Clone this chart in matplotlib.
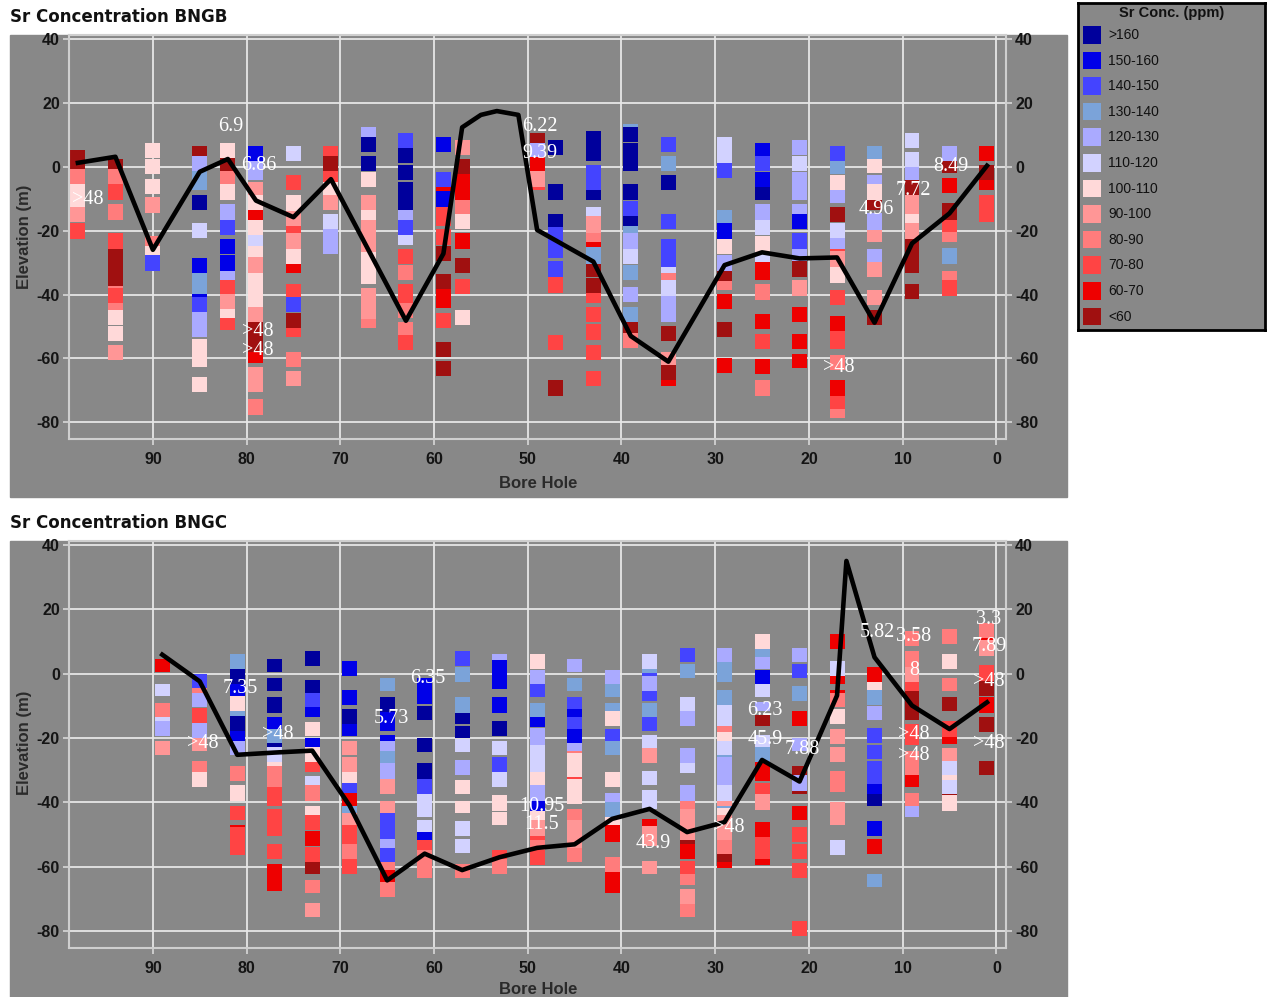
import matplotlib.pyplot as plt
from matplotlib.patches import Rectangle

W, H = 1267, 997

# Sr concentration classes, high to low
conc_classes = [">160", "150-160", "140-150", "130-140", "120-130", "110-120",
                "100-110", "90-100", "80-90", "70-80", "60-70", "<60"]
conc_colors = ["#00009c", "#0000e8", "#4444ff", "#7ba3d9", "#aaaaff", "#d2d2ff",
               "#ffd9d9", "#ff9696", "#ff7c7c", "#ff4444", "#ee0000", "#a01010"]

# ---- BNGB: sample intervals per bore hole as (top, bottom, class index)
bngb_holes = [98, 94, 90, 85, 82, 79, 75, 71, 67, 63, 59, 57, 49, 47, 43, 39,
              35, 29, 25, 21, 17, 13, 9, 5, 1]
bngb_samples = [
    [(5.2, -0.8, 11), (-0.8, -5.4, 8), (-5.4, -9.6, 6), (-9.6, -12.5, 6), (-12.5, -17.2, 7), (-17.7, -22.6, 9)],
    [(2.4, -0.8, 11), (-0.8, -5.4, 8), (-5.4, -10.4, 9), (-11.7, -16.7, 8), (-20.9, -25.6, 9), (-25.6, -37.4, 11),
     (-37.4, -38.0, 8), (-38.0, -42.8, 9), (-42.8, -44.9, 8), (-44.9, -49.5, 6), (-49.8, -54.5, 6), (-55.8, -60.5, 7)],
    [(7.3, 2.6, 6), (2.3, -2.3, 6), (-3.7, -8.6, 6), (-9.6, -14.4, 7), (-21.7, -24.8, 8), (-24.8, -27.6, 6),
     (-27.6, -32.6, 2)],
    [(6.5, 3.3, 11), (3.3, -1.3, 4), (-1.3, -7.3, 3), (-8.9, -13.6, 0), (-17.5, -22.4, 5), (-28.5, -33.2, 1),
     (-33.2, -39.7, 3), (-39.7, -40.7, 1), (-40.7, -45.4, 2), (-45.4, -53.2, 4), (-54.0, -62.6, 6), (-65.9, -70.4, 6)],
    [(7.3, 2.6, 6), (2.6, -1.3, 11), (-1.3, -5.4, 8), (-5.4, -10.4, 6), (-11.7, -16.7, 4), (-16.7, -21.4, 2),
     (-22.6, -27.3, 1), (-27.6, -32.6, 1), (-32.6, -35.5, 4), (-35.5, -39.7, 9), (-39.7, -44.5, 7), (-44.5, -47.3, 6),
     (-47.3, -51.1, 9)],
    [(6.5, 1.8, 1), (1.8, -4.2, 4), (-4.7, -8.9, 7), (-8.9, -13.6, 6), (-13.6, -16.7, 10), (-16.7, -21.4, 6),
     (-21.4, -24.8, 5), (-24.8, -28.4, 6), (-28.4, -33.2, 7), (-33.2, -43.8, 6), (-43.8, -48.5, 7), (-48.5, -57.9, 11),
     (-57.9, -61.3, 10), (-62.8, -70.4, 7), (-72.7, -77.7, 8)],
    [(6.5, 1.8, 5), (-2.6, -7.3, 9), (-8.9, -13.8, 6), (-13.8, -18.6, 7), (-18.6, -20.7, 9), (-20.7, -25.6, 7),
     (-25.6, -30.5, 6), (-30.5, -33.2, 10), (-36.7, -40.7, 9), (-40.7, -45.4, 2), (-45.7, -50.4, 11), (-50.4, -53.2, 9),
     (-57.9, -62.8, 8), (-63.8, -68.6, 7)],
    [(6.5, 3.3, 9), (3.3, -1.3, 11), (-1.3, -4.7, 9), (-4.7, -8.9, 6), (-8.9, -13.6, 7), (-14.8, -19.6, 5),
     (-19.6, -27.3, 4)],
    [(12.5, 9.4, 4), (9.4, 4.7, 0), (3.3, -1.3, 0), (-1.6, -6.3, 6), (-8.9, -13.6, 7), (-13.6, -16.7, 6),
     (-16.7, -21.4, 7), (-21.4, -26.6, 7), (-26.6, -36.7, 6), (-38.0, -47.5, 7), (-47.5, -50.4, 8)],
    [(10.6, 6.0, 2), (6.0, 1.0, 0), (0.5, -4.2, 0), (-4.7, -13.6, 0), (-13.6, -16.7, 4), (-16.7, -21.4, 2),
     (-21.4, -24.5, 5), (-25.6, -30.5, 9), (-30.8, -35.3, 8), (-36.7, -42.8, 9), (-42.8, -47.3, 8), (-48.5, -52.7, 8),
     (-52.7, -57.4, 9)],
    [(9.4, 4.7, 1), (-1.6, -6.3, 2), (-6.3, -7.5, 10), (-7.5, -12.5, 1), (-12.5, -18.6, 9), (-19.6, -24.5, 9),
     (-24.8, -29.4, 11), (-33.6, -38.4, 11), (-38.4, -44.3, 10), (-45.9, -50.4, 9), (-54.9, -59.5, 11),
     (-60.8, -65.5, 11)],
    [(8.3, 3.7, 7), (2.4, -2.3, 11), (-2.3, -10.4, 10), (-10.4, -14.8, 8), (-14.8, -19.6, 6), (-20.7, -25.6, 10),
     (-28.7, -33.4, 11), (-35.0, -39.7, 9), (-44.9, -49.5, 6)],
    [(10.6, 7.5, 11), (7.5, 3.1, 4), (3.1, -1.3, 10), (-1.3, -6.5, 7), (-6.5, -7.3, 9)],
    [(8.3, 3.7, 0), (-5.4, -10.4, 0), (-14.8, -18.8, 0), (-18.8, -28.5, 2), (-29.5, -34.4, 2), (-34.6, -39.6, 9),
     (-52.7, -57.4, 9), (-66.8, -71.7, 11)],
    [(11.2, 1.8, 0), (0.5, -7.3, 2), (-7.3, -10.4, 0), (-12.5, -15.4, 5), (-15.4, -20.6, 7), (-20.6, -23.5, 8),
     (-23.5, -25.2, 10), (-25.2, -30.3, 3), (-30.3, -34.4, 11), (-34.7, -39.4, 11), (-39.4, -42.8, 9),
     (-44.0, -48.5, 9), (-49.2, -54.2, 9), (-55.8, -60.5, 9), (-63.9, -68.5, 9)],
    [(13.4, 12.5, 3), (12.5, 7.8, 0), (7.5, -1.3, 0), (-5.4, -10.4, 0), (-10.7, -15.4, 2), (-15.4, -18.6, 0),
     (-18.6, -20.7, 3), (-20.7, -25.6, 4), (-25.6, -30.5, 5), (-30.8, -35.5, 3), (-37.8, -42.3, 4), (-44.0, -48.5, 3),
     (-48.5, -51.9, 11), (-51.9, -56.6, 8)],
    [(9.4, 4.7, 2), (3.3, -1.3, 3), (-2.6, -7.3, 0), (-14.8, -19.6, 2), (-22.6, -31.3, 2), (-31.3, -33.2, 5),
     (-33.2, -35.5, 8), (-35.5, -40.5, 5), (-40.5, -48.5, 4), (-49.9, -54.6, 11), (-57.9, -62.1, 7),
     (-62.1, -66.8, 11), (-66.8, -68.6, 10)],
    [(9.4, 1.0, 5), (1.0, -3.4, 2), (-13.6, -17.7, 3), (-17.7, -22.6, 1), (-22.6, -27.3, 6), (-27.6, -32.6, 4),
     (-32.6, -35.7, 11), (-35.7, -38.6, 8), (-39.8, -44.5, 10), (-48.5, -53.2, 11), (-60.0, -64.5, 10)],
    [(7.5, 3.3, 1), (3.3, -1.3, 2), (-1.6, -6.3, 1), (-6.5, -10.4, 0), (-11.7, -16.7, 4), (-16.7, -21.4, 5),
     (-21.7, -26.6, 6), (-26.6, -29.7, 5), (-29.7, -35.5, 10), (-36.7, -41.6, 8), (-46.0, -50.7, 10),
     (-52.3, -57.0, 9), (-60.1, -64.8, 10), (-66.8, -71.7, 8)],
    [(8.3, 3.7, 4), (3.3, -1.3, 5), (-1.6, -10.4, 4), (-11.7, -14.8, 4), (-14.8, -19.6, 1), (-20.7, -25.6, 2),
     (-25.6, -29.4, 4), (-29.4, -34.4, 11), (-35.5, -40.5, 7), (-44.0, -48.5, 10), (-52.5, -57.0, 10),
     (-58.5, -63.0, 10)],
    [(6.5, 1.8, 2), (1.8, -2.3, 3), (-2.6, -7.3, 6), (-7.3, -11.3, 4), (-12.5, -17.2, 11), (-17.5, -22.4, 5),
     (-22.4, -25.6, 4), (-25.6, -26.3, 9), (-26.3, -31.3, 7), (-31.3, -36.5, 6), (-38.6, -43.3, 9),
     (-46.7, -51.5, 10), (-51.5, -57.0, 9), (-59.0, -63.5, 8), (-66.8, -71.7, 10), (-71.7, -75.9, 9),
     (-75.9, -78.6, 8)],
    [(6.5, 2.3, 3), (2.3, -2.1, 6), (-2.6, -5.4, 4), (-5.4, -10.4, 6), (-10.4, -13.6, 11), (-14.6, -19.8, 4),
     (-19.8, -23.5, 7), (-25.6, -29.7, 4), (-29.7, -34.4, 7), (-38.6, -43.3, 7), (-44.8, -49.6, 11)],
    [(10.4, 5.7, 5), (4.5, 0.0, 5), (0.0, -4.2, 4), (-4.2, -8.9, 11), (-8.9, -14.8, 7), (-14.8, -17.5, 6),
     (-17.5, -22.6, 7), (-22.6, -33.2, 11), (-36.7, -41.4, 11)],
    [(6.5, 1.8, 4), (1.8, -2.1, 11), (-3.4, -8.3, 10), (-11.5, -16.7, 11), (-16.7, -20.3, 9), (-20.3, -23.5, 8),
     (-25.3, -30.3, 3), (-32.6, -35.5, 8), (-35.5, -40.4, 9)],
    [(6.5, 1.8, 10), (0.5, -4.2, 11), (-4.2, -7.3, 10), (-8.9, -17.2, 9)],
]
bngb_line_x = [98, 94, 90, 85, 82, 79, 75, 71, 63, 59, 57, 55, 53.3, 51, 49, 43, 39, 35, 29, 25, 21, 17, 13, 9, 5, 1]
bngb_line_y = [1.2, 3.1, -26, -1.6, 2.4, -10.6, -15.8, -3.9, -48.2, -27.2, 12.3, 16.2, 17.4, 16.2, -19.8, -29.7,
               -53, -61, -30.8, -26.8, -28.7, -28.4, -48.8, -24, -14.6, 0.3]
bngb_notes = [("6.9", 81.7, 12.5), ("6.86", 78.7, 0.3), (">48", 96.9, -10.2), (">48", 78.8, -51.6),
              (">48", 78.8, -57.6), ("6.22", 48.7, 12.5), ("9.39", 48.7, 4.0), ("8.49", 4.8, 0.0),
              ("7.72", 8.85, -7.3), ("4.96", 12.8, -13.3), (">48", 16.8, -62.8)]

# ---- BNGC
bngc_holes = [89, 85, 81, 77, 73, 69, 65, 61, 57, 53, 49, 45, 41, 37, 33, 29, 25, 21, 17, 13, 9, 5, 1]
bngc_samples = [
    [(4.5, 0.6, 10), (-3.3, -7.0, 5), (-9.1, -13.5, 8), (-13.5, -14.8, 5), (-14.8, -19.5, 4), (-20.8, -25.2, 7)],
    [(0.0, -4.3, 2), (-4.3, -5.9, 8), (-5.9, -10.5, 4), (-10.7, -15.3, 9), (-15.3, -19.9, 4), (-19.9, -24.1, 7),
     (-27.0, -30.6, 8), (-30.6, -35.2, 6)],
    [(6.1, 1.4, 3), (1.4, -3.3, 0), (-3.3, -6.8, 1), (-6.8, -11.7, 6), (-11.7, -13.0, 3), (-13.0, -17.7, 0),
     (-17.7, -20.8, 1), (-20.8, -25.4, 4), (-28.8, -33.4, 8), (-34.7, -39.4, 6), (-41.1, -45.3, 9),
     (-47.0, -47.6, 10), (-47.6, -56.4, 9)],
    [(4.6, 0.6, 0), (-1.2, -5.4, 0), (-7.4, -12.3, 0), (-13.5, -17.1, 1), (-17.1, -21.6, 3), (-21.6, -22.8, 0),
     (-22.8, -27.5, 5), (-27.5, -28.7, 6), (-28.7, -35.2, 8), (-35.2, -41.1, 9), (-41.9, -50.5, 9),
     (-53.0, -57.7, 9), (-59.0, -67.5, 10)],
    [(7.1, 2.4, 0), (-1.9, -5.9, 0), (-5.9, -10.5, 2), (-10.5, -13.5, 1), (-14.9, -19.5, 6), (-20.0, -22.8, 1),
     (-22.8, -27.5, 6), (-27.5, -30.6, 9), (-31.9, -34.7, 5), (-34.7, -39.4, 8), (-41.2, -44.0, 6),
     (-44.0, -48.7, 9), (-49.0, -53.5, 10), (-53.8, -58.5, 9), (-58.5, -62.3, 11), (-64.2, -68.1, 8),
     (-71.1, -75.6, 7)],
    [(3.9, -0.7, 1), (-5.0, -9.6, 1), (-11.0, -15.6, 0), (-15.6, -19.5, 1), (-20.8, -25.4, 7), (-25.9, -30.6, 7),
     (-30.6, -34.0, 6), (-34.0, -37.1, 2), (-37.1, -41.1, 10), (-41.1, -43.2, 3), (-43.2, -47.1, 7),
     (-47.1, -53.0, 9), (-53.0, -57.7, 8), (-57.7, -62.3, 9)],
    [(-1.2, -5.4, 3), (-7.2, -11.8, 0), (-11.8, -17.7, 1), (-18.9, -20.8, 1), (-20.8, -24.1, 4), (-24.1, -27.8, 3),
     (-27.8, -32.7, 4), (-32.7, -37.5, 7), (-39.4, -43.3, 7), (-43.3, -51.3, 2), (-51.3, -54.1, 4),
     (-54.1, -58.5, 2), (-58.5, -61.1, 8), (-61.1, -64.7, 10), (-64.7, -69.4, 8)],
    [(-1.2, -9.4, 1), (-9.9, -14.5, 0), (-20.0, -24.2, 0), (-27.8, -32.7, 0), (-32.7, -37.3, 2), (-37.3, -44.5, 5),
     (-45.4, -49.2, 5), (-49.2, -51.8, 1), (-51.8, -54.9, 9), (-54.9, -59.5, 8), (-59.5, -63.4, 8)],
    [(7.1, 2.4, 2), (2.1, -2.6, 3), (-7.4, -12.3, 3), (-12.3, -15.6, 0), (-16.1, -19.9, 0), (-20.3, -24.4, 5),
     (-26.8, -31.6, 4), (-32.9, -37.5, 6), (-39.4, -43.3, 6), (-45.9, -50.5, 5), (-51.3, -55.7, 5),
     (-59.0, -63.4, 8)],
    [(6.1, 4.2, 4), (4.2, -4.7, 1), (-7.4, -12.3, 1), (-14.8, -19.5, 0), (-20.8, -25.4, 5), (-25.9, -30.6, 2),
     (-30.6, -35.2, 5), (-37.8, -42.5, 6), (-43.0, -47.1, 6), (-54.9, -57.5, 9), (-57.5, -62.3, 8)],
    [(6.1, 1.4, 6), (1.0, -3.1, 4), (-3.1, -7.1, 2), (-9.0, -13.5, 3), (-13.5, -16.6, 1), (-16.8, -22.3, 4),
     (-22.3, -30.6, 5), (-30.6, -34.7, 6), (-34.7, -39.4, 4), (-39.4, -42.5, 1), (-42.5, -45.6, 6),
     (-45.6, -50.5, 7), (-50.5, -51.8, 9), (-51.8, -54.9, 8), (-54.9, -59.5, 9)],
    [(4.6, 0.6, 4), (-1.2, -5.4, 3), (-7.1, -11.0, 2), (-11.0, -13.5, 1), (-13.5, -17.1, 2), (-17.1, -21.6, 1),
     (-21.6, -24.1, 4), (-24.1, -24.7, 8), (-24.7, -32.1, 6), (-32.1, -32.7, 9), (-32.7, -40.4, 6),
     (-42.0, -45.3, 8), (-45.3, -54.1, 7), (-54.1, -58.5, 8)],
    [(1.0, -3.1, 4), (-3.1, -7.1, 3), (-9.0, -11.7, 3), (-11.7, -16.4, 6), (-17.1, -20.8, 2), (-20.8, -25.4, 3),
     (-30.6, -35.2, 6), (-37.1, -39.9, 4), (-39.9, -44.5, 3), (-44.5, -47.1, 6), (-47.1, -52.3, 10),
     (-56.9, -61.6, 8), (-61.6, -68.1, 10)],
    [(6.1, 1.4, 5), (1.4, 0.2, 3), (0.2, -0.8, 2), (-0.8, -5.4, 4), (-5.4, -8.5, 2), (-9.1, -13.5, 3),
     (-13.5, -17.7, 2), (-18.9, -23.0, 5), (-23.0, -27.7, 7), (-30.1, -34.7, 5), (-36.1, -42.0, 5),
     (-45.1, -47.4, 10), (-47.4, -53.4, 7), (-58.2, -62.3, 7)],
    [(8.1, 3.5, 2), (3.0, -1.2, 3), (-7.1, -11.7, 5), (-11.7, -16.4, 4), (-23.0, -27.7, 4), (-27.7, -30.8, 5),
     (-34.7, -39.4, 4), (-39.4, -42.0, 8), (-42.0, -51.8, 7), (-51.8, -53.0, 11), (-53.0, -57.7, 10),
     (-58.3, -62.3, 9), (-62.3, -65.7, 8), (-67.0, -71.6, 7), (-71.6, -75.6, 8)],
    [(8.1, 3.5, 4), (3.5, -2.6, 3), (-5.0, -9.6, 3), (-9.6, -16.4, 5), (-16.4, -18.2, 8), (-18.2, -20.8, 6),
     (-20.8, -25.4, 5), (-25.4, -25.9, 3), (-25.9, -34.7, 4), (-34.7, -39.4, 5), (-39.4, -41.2, 7),
     (-41.2, -41.7, 3), (-41.7, -44.0, 6), (-44.0, -51.8, 7), (-51.8, -55.9, 8), (-55.9, -58.5, 11),
     (-58.5, -60.3, 10)],
    [(12.4, 7.8, 6), (7.8, 5.1, 3), (5.1, 1.4, 4), (1.0, -3.1, 1), (-3.1, -7.1, 5), (-8.7, -11.6, 4),
     (-12.8, -16.4, 11), (-18.9, -22.8, 5), (-22.8, -27.5, 3), (-27.5, -33.4, 10), (-34.0, -37.3, 9),
     (-37.3, -42.2, 7), (-46.0, -50.6, 10), (-50.6, -57.7, 9), (-57.7, -59.5, 10)],
    [(8.1, 3.5, 4), (3.0, -1.2, 2), (-3.8, -8.5, 3), (-11.7, -16.4, 10), (-19.9, -24.1, 4), (-28.7, -31.6, 11),
     (-31.6, -36.3, 4), (-36.3, -37.3, 11), (-41.2, -45.3, 10), (-47.6, -52.3, 9), (-52.8, -57.7, 9),
     (-58.8, -63.5, 9), (-76.9, -81.5, 9)],
    [(12.4, 7.8, 10), (4.0, -0.7, 5), (-0.7, -3.1, 10), (-5.0, -5.9, 10), (-5.9, -10.5, 8), (-11.0, -15.6, 6),
     (-17.1, -21.8, 7), (-22.8, -27.5, 7), (-30.1, -36.6, 8), (-39.9, -47.1, 7), (-51.8, -56.4, 5)],
    [(2.2, -2.5, 10), (-2.5, -5.1, 6), (-5.1, -9.6, 3), (-9.9, -14.5, 4), (-16.9, -21.6, 2), (-22.3, -26.4, 2),
     (-27.0, -34.2, 2), (-34.2, -37.3, 1), (-37.3, -41.1, 0), (-45.9, -50.5, 1), (-51.3, -55.9, 10),
     (-62.3, -66.3, 3)],
    [(13.3, 8.7, 8), (7.1, 2.1, 8), (2.1, -2.5, 7), (-2.5, -5.4, 9), (-5.4, -14.5, 11), (-15.5, -22.3, 9),
     (-23.9, -31.6, 8), (-31.6, -35.2, 10), (-37.1, -41.1, 8), (-41.1, -44.5, 4)],
    [(13.8, 9.3, 8), (6.1, 1.4, 6), (-1.2, -5.4, 8), (-7.2, -11.7, 11), (-14.8, -19.7, 9), (-19.7, -21.8, 10),
     (-23.0, -27.0, 7), (-27.0, -31.6, 5), (-31.6, -33.0, 6), (-33.0, -37.3, 5), (-37.3, -37.6, 11),
     (-37.6, -42.5, 6)],
    [(15.7, 11.2, 8), (11.2, 10.4, 10), (10.4, 5.5, 7), (2.7, -2.3, 9), (-2.3, -6.9, 11), (-7.1, -12.1, 10),
     (-13.5, -18.2, 11), (-27.0, -31.6, 11)],
]
bngc_line_x = [89, 85, 81, 77, 73, 69, 65, 61, 57, 53, 49, 45, 41, 37, 33, 29, 25, 21, 17, 16, 13, 9, 5, 1]
bngc_line_y = [5.9, -2.4, -25.2, -24.5, -23.9, -41, -64.2, -55.9, -61, -57, -54.1, -53, -45.1, -42, -49.2,
               -46.1, -26.8, -33.5, -6.8, 35, 5.1, -9.9, -17.2, -8.9]
bngc_notes = [("7.35", 80.7, -4.5), (">48", 84.7, -21.6), (">48", 76.7, -18.9), ("5.73", 64.6, -13.8),
              ("6.35", 60.7, -1.6), ("10.95", 48.5, -41.4), ("11.5", 48.5, -47.0), ("43.9", 36.6, -52.8),
              (">48", 28.5, -47.9), ("6.23", 24.7, -11.4), ("45.9", 24.7, -20.5), ("7.88", 20.7, -23.6),
              ("5.82", 12.7, 12.8), ("3.58", 8.8, 11.5), ("8", 8.8, 1.1), (">48", 8.8, -18.9),
              (">48", 8.8, -25.4), ("3.3", 0.8, 16.7), ("7.89", 0.8, 8.4), (">48", 0.8, -2.4),
              (">48", 0.8, -21.6)]

x_ticks = [90, 80, 70, 60, 50, 40, 30, 20, 10, 0]
y_ticks = [40, 20, 0, -20, -40, -60, -80]

PANEL = "#888888"
GRID = "#e6e6e6"
SANS = "Liberation Sans"


def fx(px):
    return px / W


def fy(py):
    return 1 - py / H


def draw_panel(fig, top, plot_h, title, holes, samples, line_x, line_y, notes):
    # gray backdrop behind plot and axis labels
    fig.patches.append(Rectangle((fx(10), fy(top + 462)), (1067 - 10) / W, 462 / H,
                                 transform=fig.transFigure, color=PANEL, zorder=-1))
    fig.text(fx(10), fy(top - 18), title, fontsize=12, fontweight="bold",
             family="DejaVu Sans", ha="left", va="center", color="#111111")

    ax = fig.add_axes([fx(69), fy(top + plot_h), (1006 - 69) / W, plot_h / H])
    ax.set_facecolor(PANEL)
    ax.set_xlim(98.95, -1.03)
    ax.set_ylim(-85.2, 41.2)

    for hole, segs in zip(holes, samples):
        for t, b, c in segs:
            ax.bar(hole, t - b, bottom=b, width=1.6, color=conc_colors[c], linewidth=0, zorder=2)

    ax.plot(line_x, line_y, color="black", lw=3.3, solid_joinstyle="round", zorder=3)

    for s, x, y in notes:
        ax.text(x, y, s, color="white", fontsize=14.5, family="Liberation Serif",
                ha="center", va="center", zorder=4)

    ax.set_xticks(x_ticks, [str(v) for v in x_ticks], fontsize=11.5, fontweight="bold", family=SANS)
    ax.set_yticks(y_ticks, [str(v) for v in y_ticks], fontsize=11.5, fontweight="bold", family=SANS)
    ax.tick_params(axis="both", color="#d8d8d8", length=4.5, width=1.2, labelcolor="#141414")
    ax.tick_params(axis="y", right=True, labelright=True, pad=2)
    ax.tick_params(axis="x", pad=5)
    ax.set_axisbelow(True)
    ax.grid(color=GRID, lw=1.3)
    for sp in ax.spines.values():
        sp.set_color("#cfcfcf")
        sp.set_linewidth(1.5)

    fig.text(fx(538), fy(top + 448), "Bore Hole", fontsize=12, fontweight="bold",
             family=SANS, color="#2a2a2a", ha="center", va="center")
    fig.text(fx(24), fy(top + 202), "Elevation (m)", fontsize=12, fontweight="bold",
             family=SANS, color="#2a2a2a", ha="center", va="center", rotation=90)
    return ax


fig = plt.figure(figsize=(W / 100, H / 100), dpi=100)
fig.patch.set_facecolor("white")

draw_panel(fig, 35, 404, "Sr Concentration BNGB", bngb_holes, bngb_samples,
           bngb_line_x, bngb_line_y, bngb_notes)
draw_panel(fig, 541, 407, "Sr Concentration BNGC", bngc_holes, bngc_samples,
           bngc_line_x, bngc_line_y, bngc_notes)

# colour key, laid out in pixel units
lax = fig.add_axes([fx(1078), fy(330), (1265 - 1078) / W, (330 - 2.7) / H])
lax.set_xlim(1078, 1265)
lax.set_ylim(330, 2.7)
lax.set_facecolor(PANEL)
lax.set_xticks([])
lax.set_yticks([])
for sp in lax.spines.values():
    sp.set_color("black")
    sp.set_linewidth(2)
lax.text(1172, 13.5, "Sr Conc. (ppm)", fontsize=10.5, fontweight="bold", family=SANS,
         ha="center", va="center", color="#111111")
for i, (lab, col) in enumerate(zip(conc_classes, conc_colors)):
    y0 = 26 + i * 25.6
    lax.add_patch(Rectangle((1083, y0), 18, 17.7, color=col, lw=0))
    lax.text(1108, y0 + 9, lab, fontsize=10, family=SANS, ha="left", va="center", color="#111111")

fig.savefig("out.png", dpi=100, facecolor=fig.get_facecolor())
